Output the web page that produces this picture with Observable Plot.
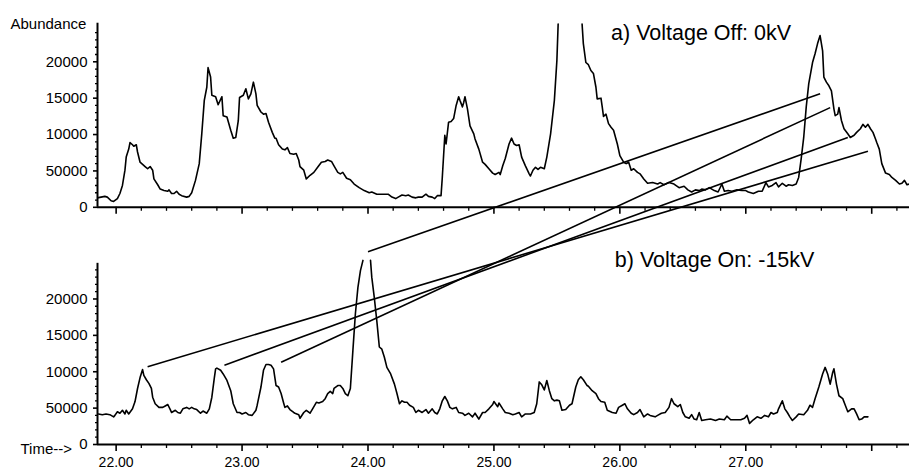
<!DOCTYPE html>
<html><head><meta charset="utf-8">
<script src="https://cdn.jsdelivr.net/npm/d3@7"></script>
<script src="https://cdn.jsdelivr.net/npm/@observablehq/plot@0.6"></script>
<style>body{margin:0;background:#fff}</style>
</head><body><div id="chart"></div>
<script>
// ---- data (time in minutes, abundance) ----
const offTime = [21.85,21.88,21.91,21.93,21.96,21.98,22.01,22.03,22.05,22.07,22.08,22.10,22.11,22.13,22.14,22.16,22.17,22.19,22.21,22.23,22.25,22.27,22.29,22.30,22.33,22.35,22.38,22.41,22.42,22.44,22.46,22.48,22.50,22.52,22.56,22.58,22.60,22.63,22.66,22.68,22.70,22.72,22.73,22.75,22.76,22.79,22.81,22.84,22.85,22.88,22.91,22.93,22.95,22.97,22.98,23.01,23.03,23.05,23.07,23.09,23.11,23.12,23.15,23.17,23.19,23.21,23.24,23.26,23.27,23.29,23.32,23.34,23.36,23.38,23.41,23.43,23.45,23.46,23.49,23.51,23.54,23.57,23.60,23.63,23.66,23.68,23.71,23.73,23.76,23.78,23.80,23.83,23.86,23.89,23.93,23.97,24.01,24.03,24.07,24.11,24.16,24.19,24.22,24.24,24.27,24.30,24.32,24.35,24.38,24.40,24.43,24.46,24.48,24.51,24.53,24.55,24.58,24.59,24.61,24.62,24.64,24.66,24.68,24.70,24.72,24.73,24.75,24.76,24.77,24.79,24.81,24.84,24.85,24.88,24.91,24.93,24.96,24.99,25.01,25.04,25.05,25.07,25.09,25.12,25.14,25.16,25.18,25.20,25.22,25.25,25.28,25.29,25.31,25.33,25.35,25.37,25.40,25.42,25.45,25.48,25.50,25.51,25.60,25.70,25.71,25.73,25.75,25.77,25.79,25.81,25.82,25.85,25.86,25.87,25.89,25.91,25.93,25.95,25.98,26.00,26.03,26.05,26.07,26.09,26.11,26.14,26.16,26.19,26.22,26.26,26.30,26.32,26.35,26.39,26.43,26.47,26.51,26.54,26.57,26.60,26.63,26.65,26.68,26.71,26.75,26.78,26.81,26.83,26.86,26.89,26.93,26.97,27.00,27.02,27.06,27.10,27.13,27.16,27.18,27.21,27.24,27.26,27.29,27.32,27.34,27.37,27.40,27.42,27.44,27.46,27.48,27.50,27.53,27.55,27.57,27.59,27.61,27.62,27.64,27.66,27.68,27.70,27.71,27.73,27.74,27.76,27.78,27.81,27.83,27.86,27.88,27.91,27.93,27.95,27.97,27.99,28.01,28.03,28.04,28.06,28.08,28.11,28.14,28.16,28.19,28.22,28.24,28.26,28.28,28.30];
const offAbund = [1300,1400,1500,1400,900,800,1200,1900,3000,5100,6900,8000,8900,8600,8400,8600,7600,6200,5900,5600,5300,5600,5100,3900,3100,2500,2300,2200,2400,1900,1900,2200,1800,1600,1400,1500,2000,3700,6000,10100,14700,16500,19200,17900,15400,15200,14100,15200,12600,12400,10600,9500,9600,11900,15100,15400,16300,14900,15600,17200,15600,14000,13100,12800,12900,11700,10300,9500,9500,8600,8000,7900,8200,7400,7300,7400,6500,5600,5100,3900,4400,4800,5500,6200,6300,6500,6300,5700,4800,4600,4800,4000,3800,3200,2700,2300,2000,2100,1800,1800,1800,1400,1200,1400,1700,1600,1700,1400,1300,1400,1400,1800,1500,1400,1200,1600,1600,4100,9900,8700,11700,11800,12200,14000,15200,14700,13800,14400,15200,13500,11200,10100,9400,8000,6200,5900,5300,4700,4500,4800,4500,5700,6700,8700,9500,8700,8500,8600,6900,5700,4600,4300,5100,5500,5200,5500,5300,6900,10100,14700,20200,25200,null,25200,22500,19900,19600,18800,18400,16500,14900,15000,13800,12500,12800,11500,11000,10600,8700,7100,6200,6000,6200,5100,5300,4800,4600,3900,3300,3400,3200,3400,3100,3400,3200,2700,2900,2400,2100,2400,2300,2500,2400,2700,2300,2100,3200,2200,2300,2200,2400,2300,2300,2100,1900,2200,2200,3400,2800,3000,3400,2800,3300,2900,3100,3000,3200,4100,6700,9600,13800,17000,19900,21100,22500,23600,21500,17900,17200,16700,16000,13500,12600,12800,13700,11900,10800,10100,9600,9900,10300,10800,11400,11000,11400,10800,10300,9400,8900,8000,6000,4700,4500,4100,3700,3200,3300,3700,3100,3200];

const onTime = [21.86,21.89,21.92,21.95,21.98,21.99,22.01,22.03,22.05,22.07,22.08,22.10,22.13,22.15,22.17,22.19,22.21,22.22,22.24,22.26,22.28,22.29,22.31,22.34,22.37,22.39,22.41,22.43,22.44,22.47,22.49,22.51,22.53,22.56,22.58,22.60,22.62,22.64,22.67,22.69,22.72,22.74,22.76,22.78,22.79,22.80,22.83,22.85,22.88,22.91,22.93,22.96,22.98,23.00,23.03,23.05,23.08,23.11,23.12,23.15,23.17,23.19,23.21,23.23,23.25,23.27,23.29,23.31,23.33,23.34,23.36,23.38,23.41,23.42,23.45,23.46,23.49,23.51,23.54,23.56,23.59,23.61,23.64,23.66,23.68,23.70,23.72,23.73,23.76,23.78,23.80,23.82,23.84,23.86,23.88,23.90,23.92,23.94,23.96,23.99,24.02,24.03,24.05,24.07,24.09,24.11,24.13,24.15,24.18,24.21,24.23,24.25,24.27,24.29,24.31,24.33,24.36,24.38,24.40,24.43,24.46,24.48,24.51,24.53,24.55,24.57,24.59,24.61,24.63,24.65,24.67,24.70,24.72,24.75,24.77,24.80,24.83,24.85,24.88,24.91,24.93,24.96,24.99,25.00,25.03,25.04,25.07,25.09,25.12,25.15,25.17,25.20,25.22,25.25,25.29,25.32,25.34,25.36,25.38,25.40,25.42,25.44,25.46,25.48,25.50,25.52,25.54,25.57,25.60,25.62,25.65,25.67,25.69,25.71,25.74,25.75,25.78,25.81,25.83,25.85,25.88,25.90,25.94,25.97,25.99,26.02,26.04,26.06,26.09,26.11,26.14,26.16,26.19,26.22,26.24,26.28,26.30,26.33,26.36,26.39,26.41,26.43,26.46,26.48,26.50,26.52,26.55,26.57,26.59,26.61,26.63,26.65,26.68,26.72,26.76,26.79,26.83,26.85,26.88,26.92,26.96,26.99,27.01,27.03,27.06,27.09,27.12,27.15,27.18,27.20,27.22,27.25,27.26,27.29,27.31,27.33,27.35,27.37,27.40,27.42,27.46,27.49,27.51,27.53,27.55,27.58,27.61,27.63,27.65,27.67,27.69,27.70,27.72,27.74,27.77,27.79,27.81,27.84,27.86,27.88,27.90,27.92,27.94,27.97];
const onAbund = [4200,4100,4200,4100,3800,4000,4500,4300,4700,4200,4700,4200,4900,5900,7700,9200,10300,9500,8900,8400,7700,6500,5600,5100,5100,5300,5500,4800,4400,4700,4400,4300,4900,5100,4900,5100,4900,4800,4300,4600,4300,4900,6500,9200,10400,10500,10200,9700,8800,7400,5600,4400,4400,4200,4400,4100,4000,4700,5400,7900,10200,11000,11000,10900,10400,8100,7900,7000,5700,5100,5300,4800,4400,4300,4100,3600,4400,4700,4300,4900,5800,5700,5900,6300,7000,7300,7000,7700,8100,8100,7700,7000,6700,7700,12900,18000,21600,23900,25300,null,25300,23000,20200,17000,13400,13100,12000,10600,9700,8300,7000,5600,6000,5800,5800,5400,5100,4400,4700,4400,4800,4300,4900,4400,4200,4900,6000,6600,6000,5100,4900,5100,4400,4300,4000,4300,3800,4300,3500,4400,4400,4900,5500,5900,5200,5700,4900,4400,4300,4100,4200,4400,3800,4200,4200,4400,5600,8600,8200,7500,8800,7400,6300,6000,6100,6000,4700,4800,5400,5600,7900,8900,9300,8900,8100,8000,7400,7000,6300,5900,5800,4700,4400,4300,5100,5400,5600,4900,4300,4100,4400,4800,3800,4200,4000,3800,4000,4300,4400,5100,6300,5600,5200,5500,4400,3800,3600,4100,3500,3400,4400,3300,3400,3500,3300,3500,3400,3900,3400,3400,3400,3600,4000,2900,3400,3800,3600,4000,3800,4400,4200,4400,4900,6000,4900,4400,3800,3300,3800,4200,4100,4700,5400,5100,6300,7900,9700,10600,9700,8300,9900,10400,8300,6700,6300,5400,4500,4900,4900,4200,3400,3500,3800,3800];

// connector lines: from a peak in panel b (voltage on) to its match in panel a (voltage off)
const linkOnTime   = [22.25, 22.86, 23.31, 24.00];
const linkOnAbund  = [10700, 10900, 11300, 26500];
const linkOffTime  = [27.97, 27.81, 27.67, 27.59];
const linkOffAbund = [7700, 9600, 13700, 15600];

const panelTitles = ["a) Voltage Off: 0kV", "b) Voltage On: -15kV"];
const titleTime   = [25.93, 25.96];
const titleAbund  = [23900, 25300];

const yTickValues = [0, 5000, 10000, 15000, 20000];
const yTickLabels = ["0", "50000", "10000", "15000", "20000"];
const xTickValues = [22, 23, 24, 25, 26, 27, 28];
const xTickLabels = ["22.00", "23.00", "24.00", "25.00", "26.00", "27.00", ""];

// ---- layout ----
const W = 909, H = 472;
const mTop = 22, mBottom = 28, mLeft = 97;
const X0 = 21.852, X1 = 28.30;
const YMAX = 58000;
const OFFSET = 32600;            // vertical shift of panel a in the shared y scale
const uPerPx = YMAX / (H - mTop - mBottom);

const offData = offTime.map((t, i) => ({t, a: offAbund[i] == null ? NaN : offAbund[i] + OFFSET}));
const onData = onTime.map((t, i) => ({t, a: onAbund[i] == null ? NaN : onAbund[i]}));
const links = linkOnTime.map((t, i) => ({x1: t, y1: linkOnAbund[i], x2: linkOffTime[i], y2: linkOffAbund[i] + OFFSET}));
const titles = panelTitles.map((s, i) => ({s, t: titleTime[i], a: titleAbund[i] + (i === 0 ? OFFSET : 0)}));

const xMinor = d3.range(22.2, 28.21, 0.2).filter(v => Math.abs(v - Math.round(v)) > 0.01);
const yMinorBase = d3.range(1000, 25001, 1000).filter(v => v % 5000 !== 0);
const yMajor = [...yTickValues, ...yTickValues.map(v => v + OFFSET)];
const yMinor = [...yMinorBase.filter(v => v <= 24000), ...yMinorBase.map(v => v + OFFSET)];
const yLabel = v => yTickLabels[yTickValues.indexOf(v >= OFFSET ? v - OFFSET : v)];
const xLabel = v => xTickLabels[xTickValues.findIndex(k => Math.abs(k - v) < 1e-6)];

const sw = 1.6;
const chart = Plot.plot({
  width: W, height: H,
  marginTop: mTop, marginBottom: mBottom, marginLeft: mLeft, marginRight: 0,
  x: {domain: [X0, X1], label: null},
  y: {domain: [0, YMAX], label: null},
  style: {fontFamily: "'Liberation Sans', Arial, sans-serif", fontSize: "15px", color: "black", background: "white", overflow: "visible"},
  marks: [
    // axis lines
    Plot.ruleX([X0], {y1: 0, y2: 24900, strokeWidth: 2}),
    Plot.ruleX([X0], {y1: OFFSET, y2: OFFSET + 25300, strokeWidth: 2}),
    Plot.ruleY([0, OFFSET], {x1: X0, x2: X1, strokeWidth: 2}),
    Plot.axisY(yMajor, {tickSize: 4, tickPadding: 6, tickFormat: yLabel, strokeWidth: sw}),
    Plot.axisY(yMinor, {tickSize: 2, tickPadding: 0, tickFormat: () => "", strokeWidth: 1.3}),
    Plot.axisX(xTickValues, {tickSize: 7, tickPadding: 6, fontSize: 14, tickFormat: xLabel, strokeWidth: sw}),
    Plot.axisX(xMinor, {tickSize: 4, tickPadding: 0, tickFormat: () => "", strokeWidth: 1.3}),
    // ticks below panel a's baseline
    Plot.ruleX(xTickValues, {x: d => d, y1: OFFSET, y2: OFFSET - 7 * uPerPx, strokeWidth: sw}),
    Plot.ruleX(xMinor, {x: d => d, y1: OFFSET, y2: OFFSET - 4 * uPerPx, strokeWidth: 1.3}),
    // traces
    Plot.line(offData, {x: "t", y: "a", stroke: "black", strokeWidth: sw, clip: true}),
    Plot.line(onData, {x: "t", y: "a", stroke: "black", strokeWidth: sw, clip: true}),
    Plot.link(links, {x1: "x1", y1: "y1", x2: "x2", y2: "y2", stroke: "black", strokeWidth: sw}),
    // texts
    Plot.text(titles, {x: "t", y: "a", text: "s", textAnchor: "start", fontSize: 21.5, fill: "black"}),
    Plot.text(["Abundance"], {frameAnchor: "top-left", dx: -87, dy: -4, textAnchor: "start", fontSize: 15, fill: "black"}),
    Plot.text(["Time-->"], {frameAnchor: "bottom-left", dx: -77, dy: 9, textAnchor: "start", fontSize: 15, fill: "black"})
  ]
});
document.getElementById("chart").appendChild(chart);
</script>
</body></html>
